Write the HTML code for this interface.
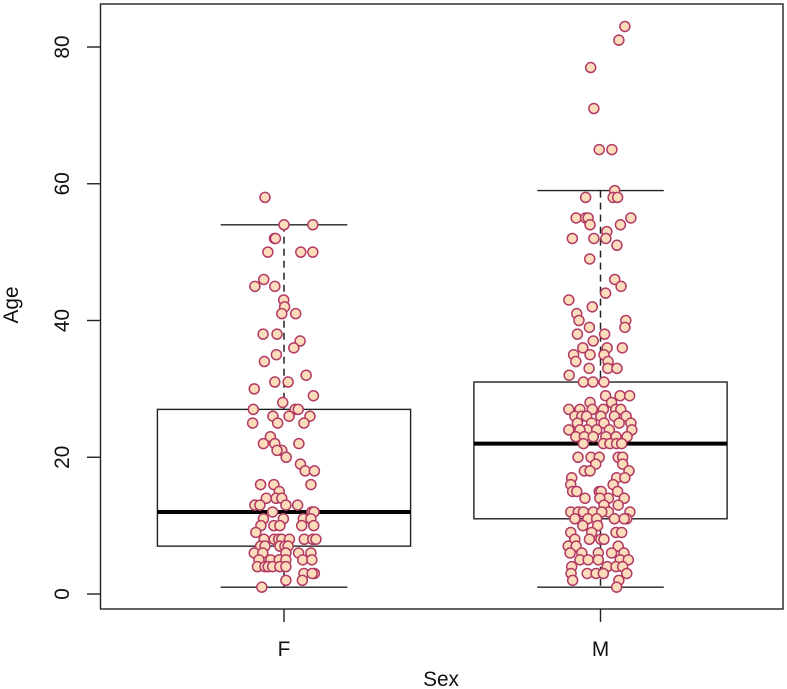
<!DOCTYPE html>
<html lang="en">
<head>
<meta charset="utf-8">
<title>Age by Sex boxplot</title>
<style>
html,body{margin:0;padding:0;background:#fff;width:787px;height:689px;overflow:hidden}
svg{display:block;font-family:"Liberation Sans",Arial,sans-serif;filter:blur(0.3px)}
text{fill:#111;font-size:20.8px}
</style>
</head>
<body>
<svg id="chart" xmlns="http://www.w3.org/2000/svg" width="787" height="689" viewBox="0 0 787 689">
  <rect x="0" y="0" width="787" height="689" fill="#fff"/>
  <g id="boxes"></g>
  <g id="points"></g>
  <rect x="100.5" y="4" width="682.5" height="605" fill="none" stroke="#222" stroke-width="1.4"/>
  <g id="axes"></g>
  <text x="441" y="686" text-anchor="middle">Sex</text>
  <text transform="translate(18,305) rotate(-90)" text-anchor="middle">Age</text>
</svg>
<script>
const categories = ['F', 'M'];
const yTicks = [0, 20, 40, 60, 80];

const whiskerLow = [1, 1];
const q1 = [7, 11];
const median = [12, 22];
const q3 = [27, 31];
const whiskerHigh = [54, 59];

// Ages and horizontal jitter (thousandths of one category) per observation.
const femaleAge = [
  58, 54,54, 52,52, 50,50,50, 46, 45,45, 43, 42, 41,41, 38,38, 37, 36, 35, 34, 32, 31,31, 30, 29, 28,
  27,27,27, 26,26,26, 25,25,25, 23, 22,22,22, 21,21, 20, 19, 18,18, 16,16,16, 15, 14,14,14,
  13,13,13,13, 12,12,12, 11,11,11,11, 10,10,10,10,10, 9, 8,8,8,8,8,8,8,8,
  7,7,7,7,7, 6,6,6,6,6, 5,5,5,5,5,5, 4,4,4,4,4,4, 3,3,3, 2,2, 1
];
const femaleJitter = [
  -60, 0,91, -30,-27, -51,53,91, -64, -92,-29, -1, 2, -7,37, -66,-22, 51, 31, -24, -62, 70, -29,13, -94, 93, -4,
  -97,35,45, -35,16,82, -99,-20,63, -43, -65,-29,47, -7,-22, 7, 52, 67,96, 85,-74,-32, -15, -56,-25,-7,
  6,43,-92,-76, -36,88,95, -2,-65,61,85, -73,-32,-13,56,94, -89, -63,-31,-17,-7,17,64,91,101,
  -74,-60,-13,3,13, -94,-67,46,85,6, -79,-42,-15,6,59,88, -84,-60,-50,-36,-13,6, 63,96,89, 6,58, -70
];
const maleAge = [
  83, 81, 77, 71, 65,65, 59, 58,58,58, 55,55,55,55, 54,54, 53, 52,52,52, 51, 49, 46, 45, 44, 43, 42, 41,
  40,40, 39,39, 38,38, 37, 36,36,36, 35,35,35, 34,34, 33,33,33, 32, 31,31,31, 29,29,29, 28,28,
  27,27,27,27,27,27, 26,26,26,26,26,26, 25,25,25,25,25, 24,24,24,24,24,24, 23,23,23,23,23,23,
  22,22,22,22,22, 20,20,20,20,20, 19,19, 18,18,18, 17,17,17, 16,16, 15,15,15,15,15, 14,14,14,14, 13,13,
  12,12,12,12,12,12,12, 11,11,11,11,11,11, 10,10, 9,9,9,9, 8,8,8,8, 7,7,7, 6,6,6,6,6, 5,5,5,5,5,
  4,4,4,4, 3,3,3,3,3, 2,2, 1
];
const maleJitter = [
  77, 58, -31, -21, -4,36, 45, -47,40,54, -77,-47,-39,96, -33,63, 20, -89,-21,17, 52, -34, 45, 65, 16, -100, -26, -75,
  -68,80, 77,-35, -73,13, -23, -56,21,69, -85,-33,11, -78,24, -36,23,52, -99, -54,-24,11, 16,62,92, -33,35,
  -100,-65,-26,9,48,64, -81,-59,-44,1,44,81, -73,-28,11,59,96, -100,-42,-12,28,99,-65, -78,-51,-23,17,49,84,
  -54,9,30,51,67, -71,-30,-4,56,70, -15,70, -51,-33,90, -91,51,77, -94,40, -88,-75,-4,2,54, -49,25,75,-2, 56,11,
  -94,-70,-54,-23,25,93,4, -81,-40,-12,44,83,75, -56,-9, -94,-28,49,67, -81,-35,1,11, -102,-77,56, -96,-59,-7,35,74, -65,-39,-7,62,88,
  -91,21,49,70, -93,-42,-14,9,83, -88,58, 51
];

const ageSeries = [femaleAge, maleAge];
const jitterSeries = [femaleJitter, maleJitter];

function xScale(pos) { return 284 + (pos - 1) * 316.5; }
function yScale(age) { return 594 - age * 6.8375; }

const SVG_NS = 'http://www.w3.org/2000/svg';
function make(tag, attrs, parent) {
  const el = document.createElementNS(SVG_NS, tag);
  for (const key in attrs) el.setAttribute(key, attrs[key]);
  parent.appendChild(el);
  return el;
}

const boxesGroup = document.getElementById('boxes');
const pointsGroup = document.getElementById('points');
const axesGroup = document.getElementById('axes');
const boxHalf = 0.4;
const capHalf = 0.2;
const lineColor = '#222';

categories.forEach(function (cat, i) {
  const pos = i + 1;
  const key = cat.toLowerCase();
  const cx = xScale(pos);
  const whiskers = [[whiskerHigh[i], q3[i]], [q1[i], whiskerLow[i]]];
  whiskers.forEach(function (w, j) {
    const whisker = make('line', { x1: cx, x2: cx, y1: yScale(w[0]), y2: yScale(w[1]), stroke: lineColor, 'stroke-width': 1.5, 'stroke-dasharray': '7 5' }, boxesGroup);
    
    
  });
  [whiskerHigh[i], whiskerLow[i]].forEach(function (v, j) {
    const cap = make('line', { x1: xScale(pos - capHalf), x2: xScale(pos + capHalf), y1: yScale(v), y2: yScale(v), stroke: lineColor, 'stroke-width': 1.4 }, boxesGroup);
    
    
  });
  const box = make('rect', { x: xScale(pos - boxHalf), y: yScale(q3[i]), width: xScale(pos + boxHalf) - xScale(pos - boxHalf), height: yScale(q1[i]) - yScale(q3[i]), fill: '#fff', stroke: lineColor, 'stroke-width': 1.4 }, boxesGroup);
  
  
  const med = make('line', { x1: xScale(pos - boxHalf), x2: xScale(pos + boxHalf), y1: yScale(median[i]), y2: yScale(median[i]), stroke: '#000', 'stroke-width': 4 }, boxesGroup);
  
  

  ageSeries[i].forEach(function (age, n) {
    const pt = make('circle', { cx: xScale(pos + jitterSeries[i][n] / 1000), cy: yScale(age), r: 5, fill: '#fddcbc', stroke: '#b23a63', 'stroke-width': 1.5 }, pointsGroup);
    
    
  });

  const tick = make('line', { x1: cx, x2: cx, y1: 609, y2: 622, stroke: lineColor, 'stroke-width': 1.4 }, axesGroup);
  
  
  const label = make('text', { x: cx, y: 656, 'text-anchor': 'middle' }, axesGroup);
  label.textContent = cat;
  
  
});

yTicks.forEach(function (v) {
  const y = yScale(v);
  const tick = make('line', { x1: 87, x2: 100.5, y1: y, y2: y, stroke: lineColor, 'stroke-width': 1.4 }, axesGroup);
  
  
  const label = make('text', { transform: 'translate(69,' + y + ') rotate(-90)', 'text-anchor': 'middle' }, axesGroup);
  label.textContent = String(v);
  
  
});
</script>
</body>
</html>
